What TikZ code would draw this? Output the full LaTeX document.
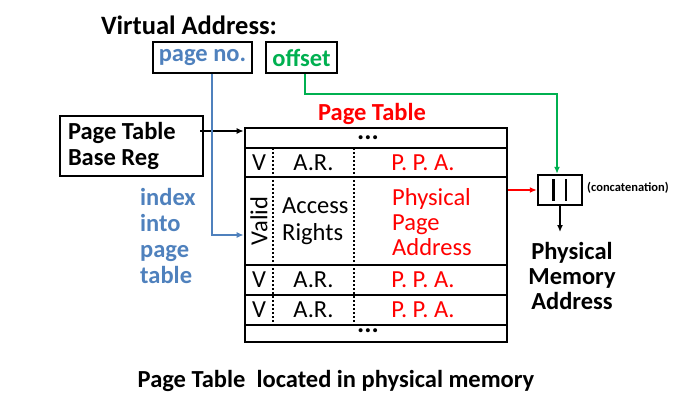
\documentclass[tikz,border=0pt]{standalone}
\usepackage{fontspec}
\setmainfont{Carlito}
\usetikzlibrary{arrows.meta, positioning}
\definecolor{idxblue}{RGB}{79,129,189}
\definecolor{offgreen}{RGB}{0,176,80}
\definecolor{ppared}{RGB}{255,0,0}

\begin{document}
\begin{tikzpicture}[x=1pt,y=-1pt,>={Latex[length=7pt,width=6pt]},
   big/.style={font=\fontsize{24.5}{25}\selectfont},
   bigb/.style={font=\fontsize{24.5}{25}\selectfont\bfseries},
   field/.style={draw,line width=2.8pt,minimum height=31pt,inner sep=0pt,bigb},
   rowline/.style={line width=2pt},
   colline/.style={line width=1.8pt,dash pattern=on 1.8pt off 2.2pt},
   link/.style={->,line width=2pt}]
   \useasboundingbox (0,0) rectangle (683,409);

   % virtual address
   \node[font=\fontsize{26.5}{28}\selectfont\bfseries,anchor=base] (va) at (189,35) {Virtual Address:};
   \node[field,minimum width=99pt,text=idxblue] (pageno) at (202.5,57.5) {page no.};
   \node[field,minimum width=71pt,text=offgreen] (offset) at (301.5,57.5) {offset};

   % base register
   \node[draw,line width=1.5pt,bigb,align=flush left,text width=127pt,inner xsep=8pt,minimum height=60pt]
      (basereg) at (131.5,146) {Page Table\\[1pt]Base Reg};
   \node[text=idxblue,align=left,anchor=west,inner sep=0pt,font=\fontsize{24.5}{25.7}\selectfont\bfseries]
      (idxtxt) at (140,236) {index\\into\\page\\table};

   % page table
   \node[bigb,text=ppared,anchor=base,inner sep=0pt] (pttitle) at (372,121) {Page Table};
   \node[draw,line width=2.6pt,minimum width=262pt,minimum height=214pt] (ptable) at (376,235) {};
   \foreach \ry in {148,177,265,295,325}
      \draw[rowline] (245,\ry) -- (507,\ry);
   \foreach \cx in {273,354}
      \draw[colline] (\cx,148) -- (\cx,325);
   \node[font=\fontsize{27}{28}\selectfont\bfseries,inner sep=0pt] (dotstop) at (368,138) {...};
   \node[font=\fontsize{27}{28}\selectfont\bfseries,inner sep=0pt] (dotsbot) at (368,331) {...};
   \foreach \ry/\rn in {162.5/a,280/b,310/c} {
      \node[big] (v\rn) at (259,\ry) {V};
      \node[big] (ar\rn) at (313.5,\ry) {A.R.};
      \node[big,text=ppared] (ppa\rn) at (423,\ry) {P. P. A.};
   }
   \node[big,rotate=90] (valid) at (259,221) {Valid};
   \node[align=left,anchor=west,inner sep=0pt,font=\fontsize{24.5}{27}\selectfont] (access) at (282,221) {Access\\Rights};
   \node[big,align=left,anchor=west,inner sep=0pt,text=ppared] (phys) at (392,222) {Physical\\Page\\Address};

   % concatenation
   \node[draw,line width=2.4pt,minimum width=44pt,minimum height=30pt] (concat) at (560,190) {};
   \draw[line width=2.2pt] ([shift={(-6.5,-10.5)}]concat.center) -- ([shift={(-6.5,10.5)}]concat.center);
   \draw[line width=2.2pt] ([shift={(6,-10.5)}]concat.center) -- ([shift={(6,10.5)}]concat.center);
   \node[font=\fontsize{12.5}{14}\selectfont\bfseries,anchor=west,inner sep=0pt] (cattxt) at (587,188) {(concatenation)};
   \node[bigb,align=center] (pma) at (572,276) {Physical\\Memory\\Address};
   \coordinate (pmatop) at (560,232);
   \coordinate (basetap) at (200,131);

   % connectors
   \draw[link] (basetap) -- (basetap -| ptable.west);
   \draw[link,idxblue] ([xshift=9.5pt]pageno.south) |- (ptable.west);
   \draw[link,offgreen] ([xshift=3.5pt]offset.south) -- ++(0,20) -| ([xshift=-3pt]concat.north);
   \draw[link,ppared] (ptable.east |- concat.west) -- (concat.west);
   \draw[link] (concat.south) -- (pmatop);

   \node[bigb,anchor=base] (caption) at (336,387) {Page Table\ \ located in physical memory};
\end{tikzpicture}
\end{document}
